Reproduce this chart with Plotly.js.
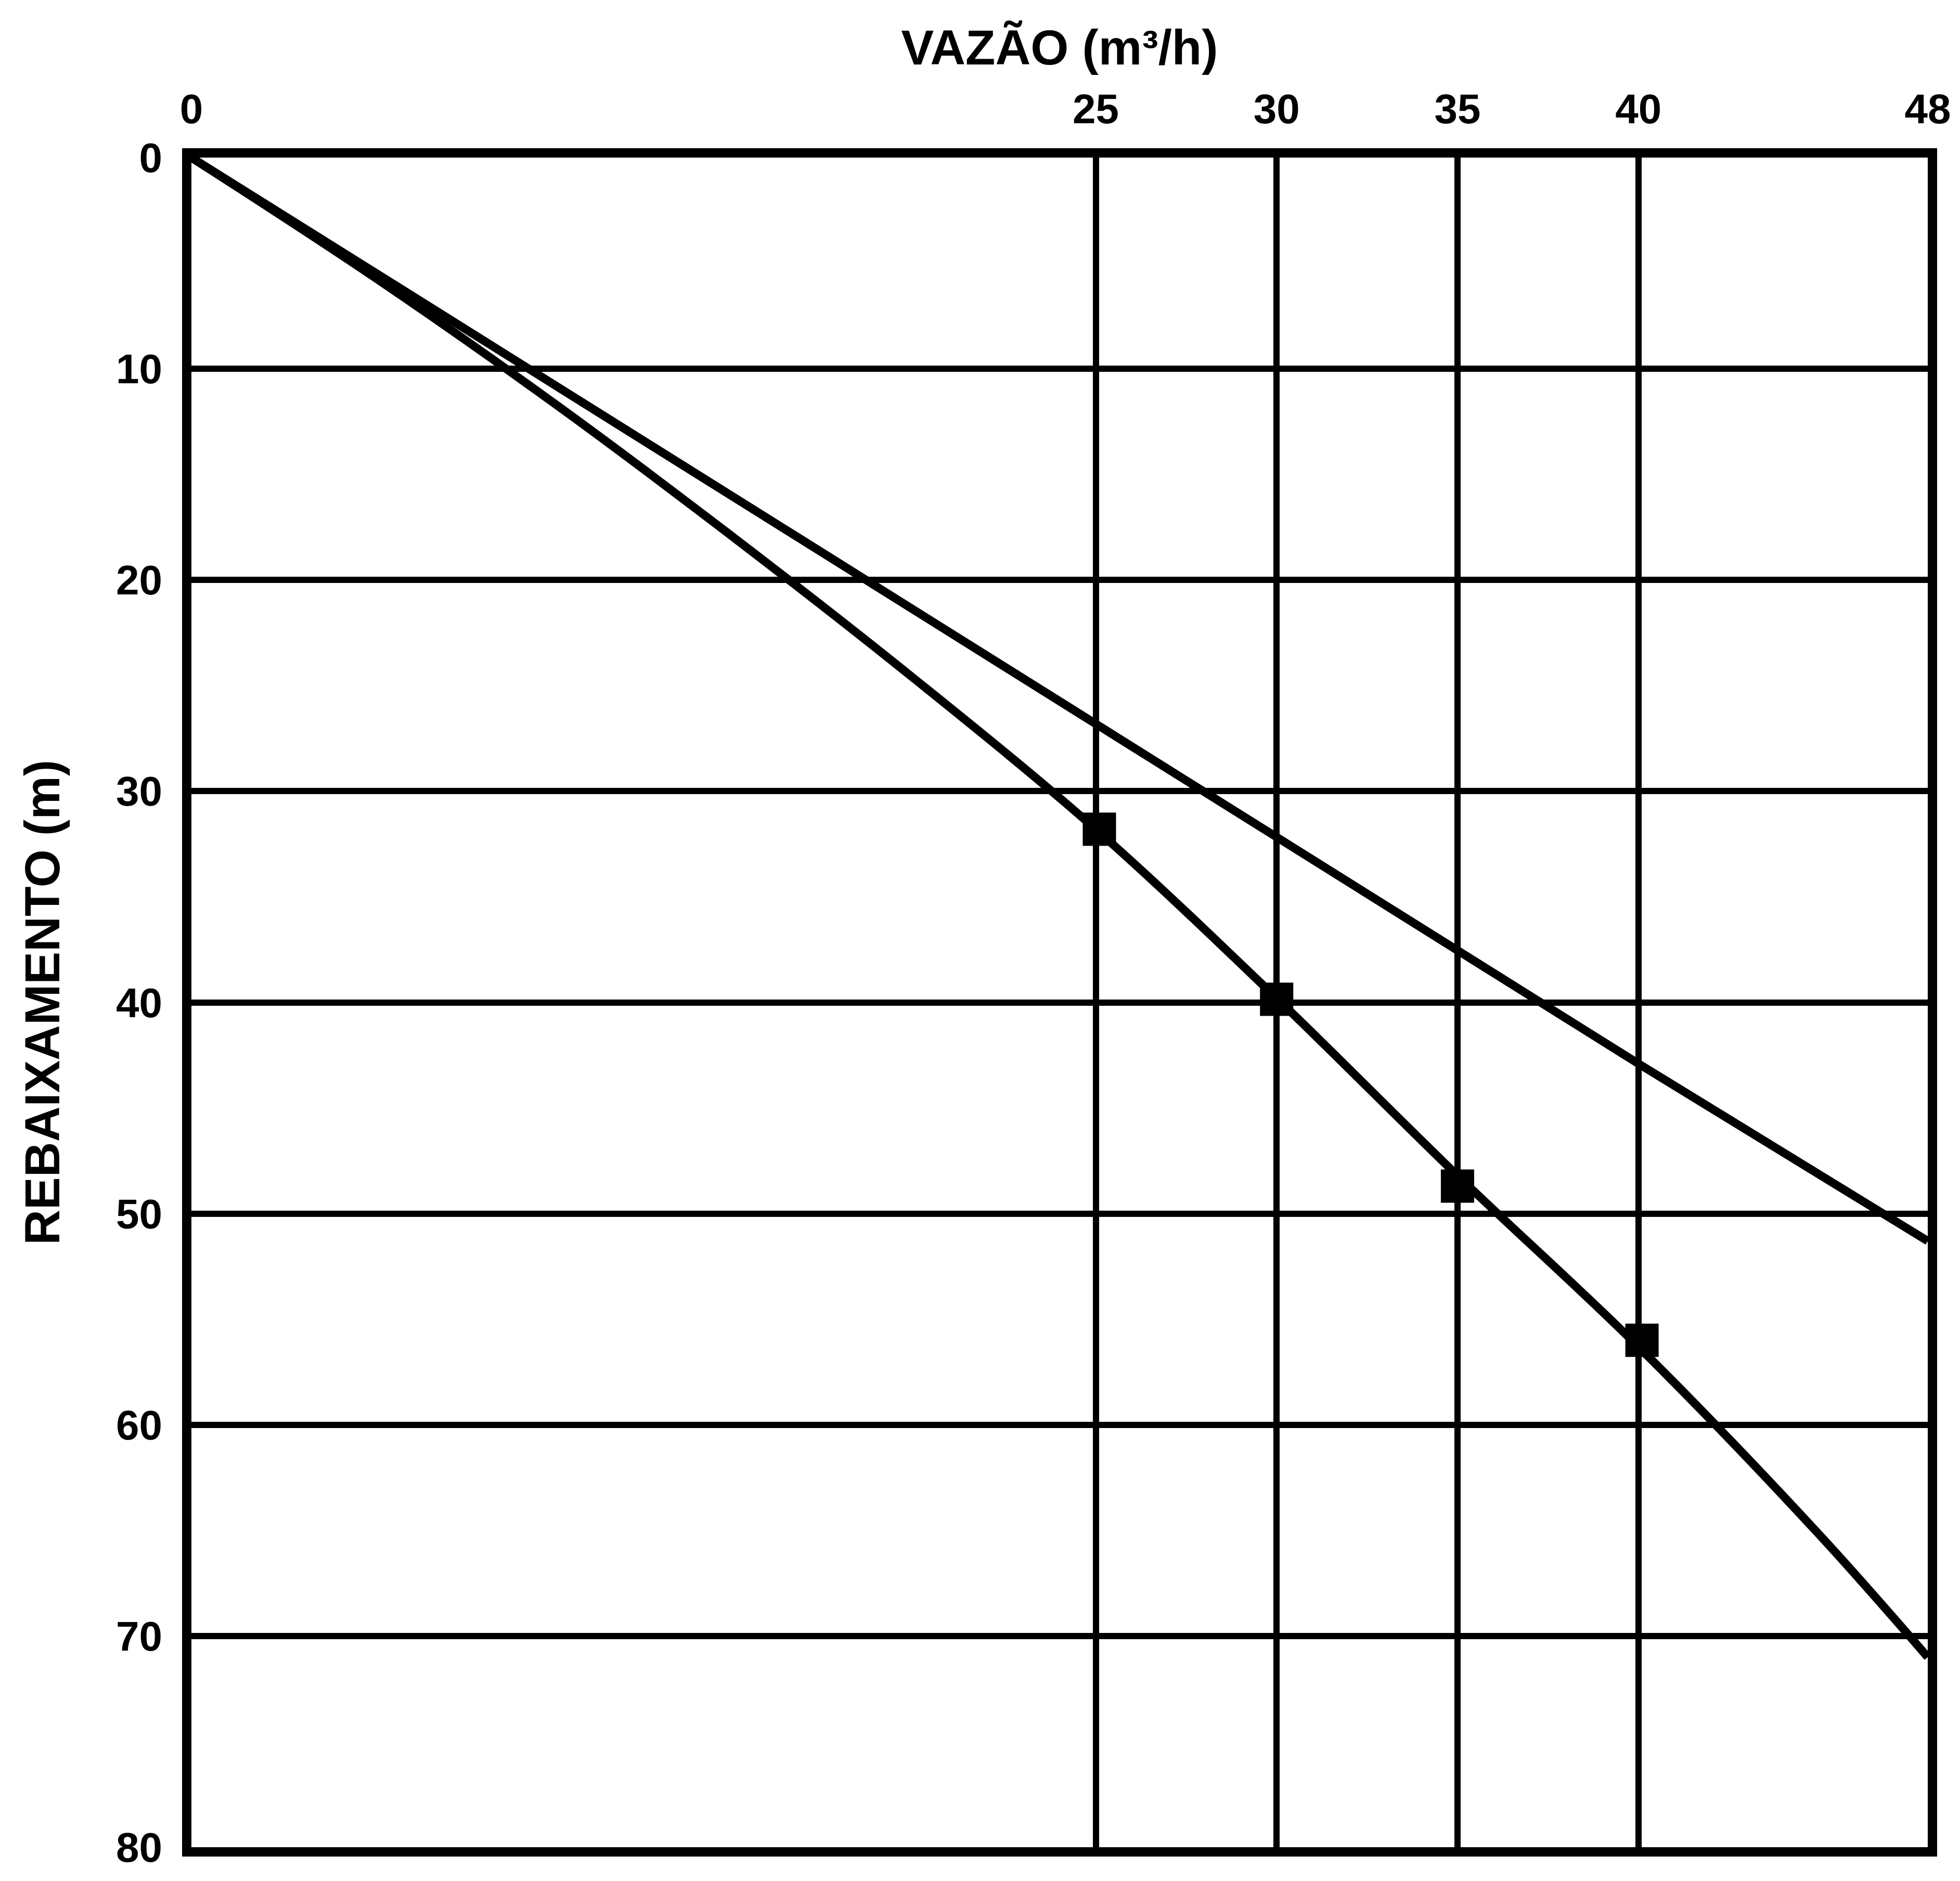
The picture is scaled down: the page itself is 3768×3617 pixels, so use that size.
<!DOCTYPE html>
<html>
<head>
<meta charset="utf-8">
<script src="https://cdn.plot.ly/plotly-3.0.1.min.js"></script>
<style>html,body{margin:0;padding:0;background:#fff;}#chart{width:3768px;height:3617px;}</style>
</head>
<body>
<div id="chart"></div>
<script>
// Data
const xTickVals = [0, 25, 30, 35, 40, 48];
const yTickVals = [0, 10, 20, 30, 40, 50, 60, 70, 80];

// Straight line (theoretical)
const lineQ = [0, 10, 20, 30, 40, 48];
const lineS = [0, 10.7, 21.4, 32.1, 42.9, 51.3];

// Curved line (fitted through the points)
const curveQ = [0, 5, 10, 15, 20, 25, 30, 35, 40, 45, 48];
const curveS = [0, 5.6, 11.6, 18.0, 24.7, 31.8, 39.8, 48.2, 56.3, 65.2, 71.0];

// Measured points
const pointQ = [25.1, 30.0, 35.0, 40.1];
const pointS = [31.8, 39.85, 48.7, 56.0];

const fontFam = '"Liberation Sans", Arial, sans-serif';

const traces = [
  {x: lineQ, y: lineS, mode: 'lines', line: {color: '#000', width: 16}, hoverinfo: 'skip', showlegend: false},
  {x: curveQ, y: curveS, mode: 'lines', line: {color: '#000', width: 16, shape: 'spline', smoothing: 1}, hoverinfo: 'skip', showlegend: false},
  {x: pointQ, y: pointS, mode: 'markers', marker: {symbol: 'square', size: 64, color: '#000'}, showlegend: false}
];

const layout = {
  width: 3768, height: 3617,
  paper_bgcolor: '#fff', plot_bgcolor: '#fff',
  margin: {l: 368, r: 62, t: 303, b: 65},
  font: {family: fontFam, color: '#000'},
  title: {
    text: '<b>VAZÃO (m³/h)</b>',
    font: {family: fontFam, size: 94, color: '#000'},
    x: 0.5, xref: 'paper', xanchor: 'center',
    y: 1 - 91/3617, yref: 'container', yanchor: 'middle'
  },
  xaxis: {
    side: 'top', range: [0, 48], tickmode: 'array', tickvals: xTickVals,
    ticktext: xTickVals.map(v => '<b>' + v + '</b>'),
    tickfont: {family: fontFam, size: 80, color: '#000'},
    ticks: '', ticklabelstandoff: 16,
    showgrid: true, gridcolor: '#000', gridwidth: 12,
    zeroline: false, showline: true, linecolor: '#000', linewidth: 18, mirror: true,
    fixedrange: true
  },
  yaxis: {
    range: [80, 0], tickmode: 'array', tickvals: yTickVals,
    ticktext: yTickVals.map(v => '<b>' + v + '</b>'),
    tickfont: {family: fontFam, size: 80, color: '#000'},
    ticks: '', ticklabelstandoff: 22,
    showgrid: true, gridcolor: '#000', gridwidth: 12,
    zeroline: false, showline: true, linecolor: '#000', linewidth: 18, mirror: true,
    title: {text: '<b>REBAIXAMENTO (m)</b>', font: {family: fontFam, size: 94, color: '#000'}, standoff: 85},
    fixedrange: true
  }
};

Plotly.newPlot('chart', traces, layout, {staticPlot: true, displayModeBar: false});
</script>
</body>
</html>
